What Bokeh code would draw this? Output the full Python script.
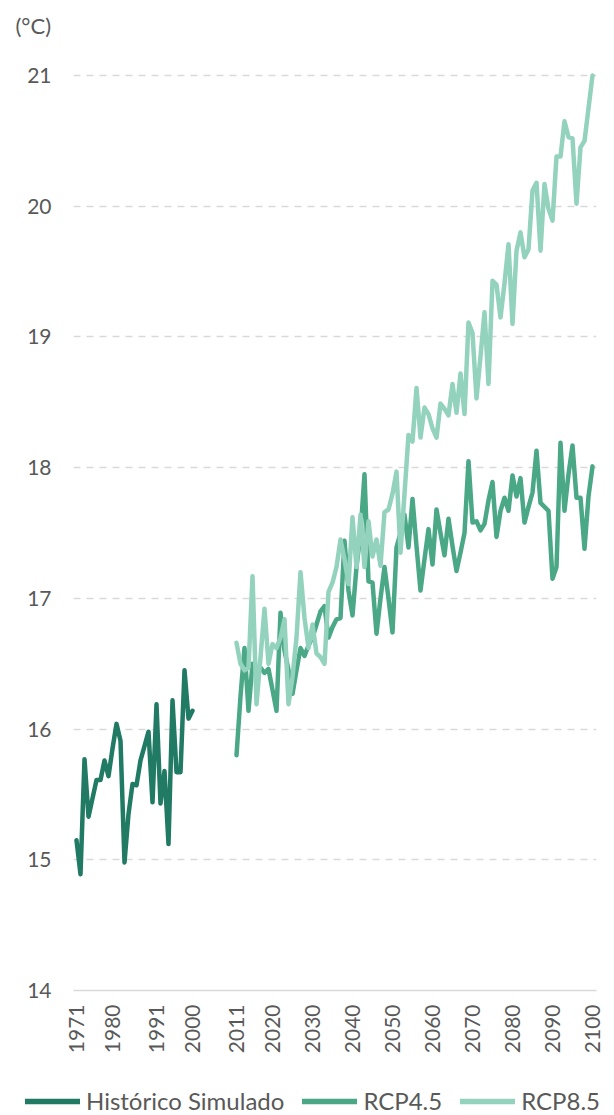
import numpy as np
from bokeh.plotting import figure
from bokeh.layouts import column
from bokeh.models import FixedTicker, Legend, LegendItem, Label, ColumnDataSource
from bokeh.embed import file_html
from bokeh.resources import INLINE

# ---------------- data ----------------
hist_years = list(range(1971, 2001))
hist_temp = [15.15, 14.89, 15.77, 15.33, 15.47, 15.61, 15.61, 15.76, 15.64, 15.85,
             16.04, 15.91, 14.98, 15.35, 15.58, 15.57, 15.76, 15.87, 15.98, 15.44,
             16.19, 15.43, 15.68, 15.12, 16.22, 15.67, 15.67, 16.45, 16.08, 16.14]

proj_years = list(range(2011, 2101))
rcp45 = [15.80, 16.25, 16.62, 16.14, 16.50, 16.43, 16.47, 16.43, 16.46, 16.30,
         16.14, 16.89, 16.60, 16.45, 16.27, 16.45, 16.62, 16.56, 16.64, 16.70,
         16.80, 16.90, 16.94, 16.70, 16.78, 16.84, 16.85, 17.44, 17.06, 16.87,
         17.24, 17.50, 17.95, 17.13, 17.12, 16.73, 17.00, 17.24, 17.00, 16.74,
         17.39, 17.50, 17.64, 17.39, 17.76, 17.40, 17.06, 17.30, 17.53, 17.26,
         17.68, 17.50, 17.33, 17.61, 17.40, 17.21, 17.35, 17.50, 18.05, 17.58,
         17.59, 17.52, 17.57, 17.75, 17.89, 17.47, 17.67, 17.77, 17.67, 17.94,
         17.78, 17.92, 17.58, 17.70, 17.81, 18.13, 17.73, 17.70, 17.67, 17.15,
         17.24, 18.19, 17.67, 17.95, 18.17, 17.77, 17.77, 17.38, 17.78, 18.01]
rcp85 = [16.66, 16.50, 16.45, 16.47, 17.17, 16.19, 16.55, 16.92, 16.50, 16.65,
         16.62, 16.70, 16.84, 16.19, 16.40, 16.70, 17.20, 16.85, 16.62, 16.80,
         16.58, 16.55, 16.50, 17.05, 17.12, 17.24, 17.45, 17.30, 17.11, 17.62,
         17.24, 17.64, 17.24, 17.59, 17.32, 17.45, 17.25, 17.66, 17.68, 17.80,
         17.97, 17.35, 17.80, 18.25, 18.20, 18.61, 18.23, 18.46, 18.41, 18.30,
         18.23, 18.49, 18.45, 18.40, 18.64, 18.42, 18.72, 18.41, 19.11, 19.03,
         18.53, 18.85, 19.19, 18.64, 19.43, 19.40, 19.15, 19.41, 19.71, 19.10,
         19.66, 19.80, 19.61, 19.67, 20.12, 20.18, 19.66, 20.17, 19.98, 19.89,
         20.38, 20.38, 20.65, 20.53, 20.52, 20.02, 20.45, 20.50, 20.75, 21.00]

x_ticks = [1971, 1980, 1991, 2000, 2011, 2020, 2030, 2040, 2050, 2060, 2070, 2080, 2090, 2100]
y_ticks = [14, 15, 16, 17, 18, 19, 20, 21]
series_names = ["Histórico Simulado", "RCP4.5", "RCP8.5"]
unit_label = "(°C)"

# ---------------- style ----------------
C_HIST = "#217a64"
C_45 = "#4aa887"
C_85 = "#93d2bc"
TXT = "#595959"
GRID = "#d9d9d9"
FONT = "Lato"
LW = 4.5
W = 614
H_TOP, H_MAIN, H_LEG = 60, 1025, 30
FRAME_TOP = 68 - H_TOP


def bare(fig):
    fig.outline_line_color = None
    fig.xgrid.visible = False
    fig.ygrid.visible = False
    return fig


src_h = ColumnDataSource(dict(x=hist_years, y=hist_temp))
src_p = ColumnDataSource(dict(x=proj_years, a=rcp45, b=rcp85))

# ---- header with the unit ----
ph = bare(figure(width=W, height=H_TOP, x_range=(0, W), y_range=(0, H_TOP), title=None,
                 x_axis_type=None, y_axis_type=None, output_backend="svg",
                 toolbar_location=None, min_border=0))
ph.frame_align = False
ph.add_layout(Label(x=15, y=H_TOP - 25, text=unit_label, text_font=FONT, text_font_size="22px",
                    text_color=TXT, text_baseline="middle", text_align="left"))

# ---- main chart ----
p = figure(width=W, height=H_MAIN, x_range=(1970.25, 2101), y_range=(14, 21.054),
           output_backend="svg", toolbar_location=None,
           min_border_left=73, min_border_right=18, min_border_top=FRAME_TOP,
           min_border_bottom=H_MAIN - FRAME_TOP - 922)
p.frame_align = False
p.outline_line_color = None

line_style = dict(line_width=LW, line_cap="round", line_join="round")
p.line("x", "y", source=src_h, color=C_HIST, **line_style)
p.line("x", "a", source=src_p, color=C_45, **line_style)
p.line("x", "b", source=src_p, color=C_85, **line_style)

p.xaxis.ticker = FixedTicker(ticks=x_ticks)
p.xaxis.major_label_orientation = np.pi / 2
p.xaxis.major_label_standoff = 14
p.xaxis.axis_line_color = GRID
p.xaxis.axis_line_width = 1.5

p.yaxis.ticker = FixedTicker(ticks=y_ticks)
p.yaxis.axis_line_color = None
p.yaxis.major_label_standoff = 22

for ax in (p.xaxis[0], p.yaxis[0]):
    ax.major_tick_out = 0
    ax.major_tick_in = 0
    ax.minor_tick_out = 0
    ax.minor_tick_in = 0
    ax.major_label_text_font = FONT
    ax.major_label_text_font_size = "21px"
    ax.major_label_text_color = TXT

p.xgrid.grid_line_color = None
p.ygrid.ticker = FixedTicker(ticks=y_ticks)
p.ygrid.grid_line_color = GRID
p.ygrid.grid_line_width = 1.5
p.ygrid.grid_line_dash = "7 6"

# ---- legend strip (same sources, ranges keep the lines out of view) ----
pl = bare(figure(width=W, height=H_LEG, x_range=(0, 1), y_range=(0, 1), title=None,
                 x_axis_type=None, y_axis_type=None, output_backend="svg",
                 toolbar_location=None, min_border=0))
pl.frame_align = False
lg_style = dict(line_width=5.5, line_cap="round", line_join="round")
l_h = pl.line("x", "y", source=src_h, color=C_HIST, **lg_style)
l_a = pl.line("x", "a", source=src_p, color=C_45, **lg_style)
l_b = pl.line("x", "b", source=src_p, color=C_85, **lg_style)
legend = Legend(items=[LegendItem(label=series_names[0], renderers=[l_h]),
                       LegendItem(label=series_names[1], renderers=[l_a]),
                       LegendItem(label=series_names[2], renderers=[l_b])],
                orientation="horizontal", location=(25, 0),
                glyph_width=55, glyph_height=24, label_standoff=6, spacing=18,
                padding=0, margin=0, border_line_color=None, background_fill_alpha=0,
                label_text_font=FONT, label_text_font_size="24px", label_text_color=TXT)
pl.add_layout(legend)

layout = column(ph, p, pl, spacing=0)
open("out.html", "w").write(file_html(layout, INLINE))
